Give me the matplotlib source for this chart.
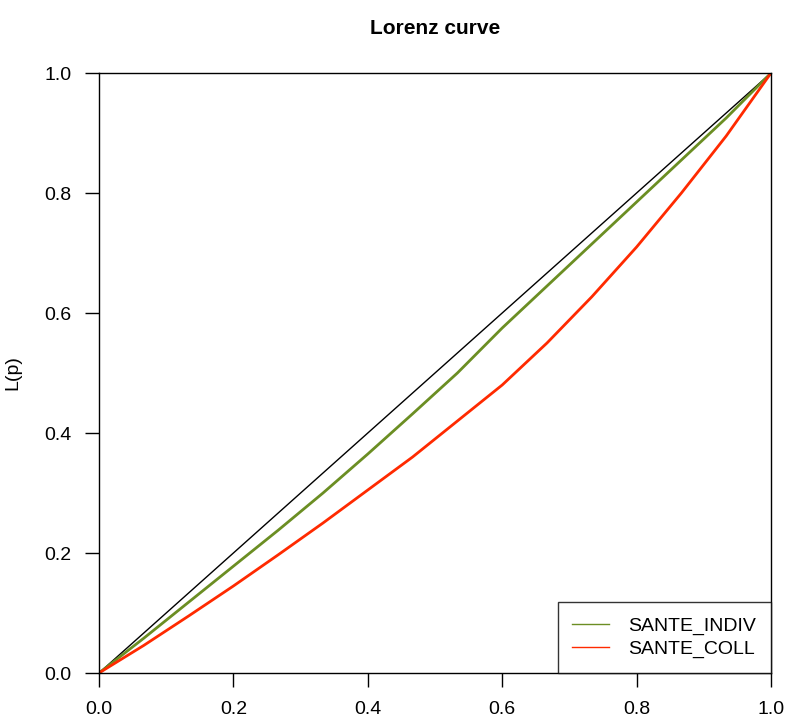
import numpy as np
import matplotlib.pyplot as plt
from matplotlib.lines import Line2D

plt.rcParams['font.family'] = ['Liberation Sans', 'DejaVu Sans']

# cumulative population share, sampled on a 1/15 grid
p = np.arange(16) / 15
sante_indiv = [0.0, 0.058, 0.118, 0.178, 0.238, 0.300, 0.365, 0.432,
               0.500, 0.575, 0.645, 0.715, 0.785, 0.855, 0.925, 1.0]
sante_coll = [0.0, 0.046, 0.095, 0.145, 0.197, 0.250, 0.305, 0.360,
              0.420, 0.480, 0.550, 0.627, 0.710, 0.800, 0.895, 1.0]
series_names = ['SANTE_INDIV', 'SANTE_COLL']
series_colors = ['#6B8E23', '#FF2A00']
ticks = [0.0, 0.2, 0.4, 0.6, 0.8, 1.0]

fig = plt.figure(figsize=(7.87, 7.2), dpi=100)
ax = fig.add_axes([99 / 787, 47 / 720, 672 / 787, 600 / 720])

ax.plot([0, 1], [0, 1], color='black', lw=1.0)
ax.plot(p, sante_indiv, color=series_colors[0], lw=2.0)
ax.plot(p, sante_coll, color=series_colors[1], lw=2.0)

ax.set_xlim(0, 1)
ax.set_ylim(0, 1)
ax.set_xticks(ticks)
ax.set_yticks(ticks)
ax.set_xticklabels(['%.1f' % t for t in ticks])
ax.set_yticklabels(['%.1f' % t for t in ticks])
ax.tick_params(direction='out', length=10, width=1, labelsize=14, pad=10)
for s in ax.spines.values():
    s.set_linewidth(1.0)

ax.set_title('Lorenz curve', fontsize=15, fontweight='bold', pad=28)
ax.set_ylabel('L(p)', fontsize=14, labelpad=16)

handles = [Line2D([], [], color=c, lw=1.0) for c in series_colors]
leg = ax.legend(handles, series_names, loc='lower right', fontsize=14,
                frameon=True, fancybox=False, borderaxespad=0, handlelength=1.9,
                handletextpad=1.0, borderpad=0.75, labelspacing=0.3)
leg.get_frame().set_edgecolor('black')
leg.get_frame().set_linewidth(1.0)

fig.savefig('out.png', dpi=100)
